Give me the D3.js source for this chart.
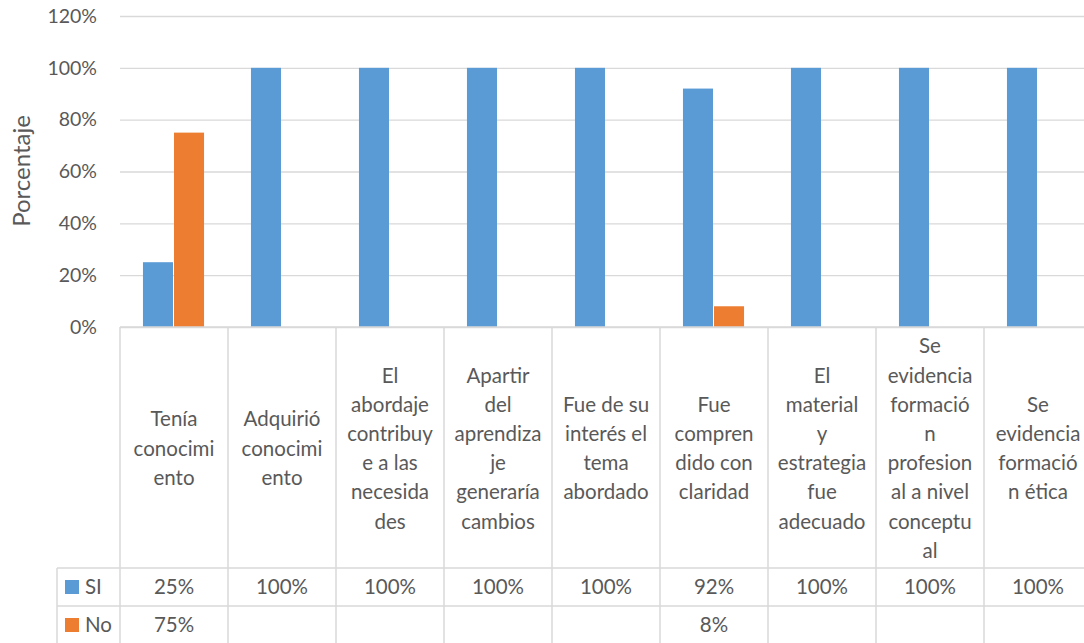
<!DOCTYPE html>
<html>
<head>
<meta charset="utf-8">
<script src="https://cdn.jsdelivr.net/npm/d3@7"></script>
<style>
  body { margin: 0; background: #fff; overflow: hidden; }
  svg { display: block; font-family: Lato, "Open Sans", sans-serif; }
</style>
</head>
<body>
<svg id="chart"></svg>
<script>
// Data
const categories = [
    "Tenía conocimiento",
    "Adquirió conocimiento",
    "El abordaje contribuye a las necesidades",
    "Apartir del aprendizaje generaría cambios",
    "Fue de su interés el tema abordado",
    "Fue comprendido con claridad",
    "El material y estrategia fue adecuado",
    "Se evidencia formación profesional a nivel conceptual",
    "Se evidencia formación ética"
];
// wrapped the way the table shows them
const categoryLines = [
    ["Tenía", "conocimi", "ento"],
    ["Adquirió", "conocimi", "ento"],
    ["El", "abordaje", "contribuy", "e a las", "necesida", "des"],
    ["Apartir", "del", "aprendiza", "je", "generaría", "cambios"],
    ["Fue de su", "interés el", "tema", "abordado"],
    ["Fue", "compren", "dido con", "claridad"],
    ["El", "material", "y", "estrategia", "fue", "adecuado"],
    ["Se", "evidencia", "formació", "n", "profesion", "al a nivel", "conceptu", "al"],
    ["Se", "evidencia", "formació", "n ética"]
];
const seriesNames = ["SI", "No"];
const siValues = [0.25, 1, 1, 1, 1, 0.92, 1, 1, 1];
const noValues = [0.75, null, null, null, null, 0.08, null, null, null];
const yTicks = [0, 0.2, 0.4, 0.6, 0.8, 1.0, 1.2];
const colors = ["#5B9BD5", "#ED7D31"];

const width = 1084, height = 643;
const plotLeft = 120, plotRight = 1092, plotTop = 16, plotBottom = 327;
const headerBottom = 568, rowH = 38;
const legendLeft = 57;
const textColor = "#595959", gridColor = "#D9D9D9";
const tableFont = "20.5px";

const svg = d3.select("#chart").attr("width", width).attr("height", height);

const x = d3.scaleBand()
    .domain(d3.range(categories.length))
    .range([plotLeft, plotRight])
    .padding(0);

const xInner = d3.scaleBand()
    .domain(seriesNames)
    .range([0, x.bandwidth()])
    .paddingInner(0)
    .paddingOuter(0.74);

const y = d3.scaleLinear()
    .domain([0, 1.2])
    .range([plotBottom, plotTop]);

// gridlines + y axis labels
const yAxis = svg.append("g")
    .attr("transform", `translate(${plotLeft},0)`)
    .call(d3.axisLeft(y).tickValues(yTicks).tickFormat(d3.format(".0%"))
        .tickSize(-(plotRight - plotLeft)).tickPadding(23));
yAxis.select(".domain").remove();
yAxis.selectAll(".tick line").attr("stroke", gridColor).attr("stroke-width", 1.3);
yAxis.selectAll(".tick text")
    .attr("fill", textColor)
    .attr("font-size", "19.5px")
    .attr("font-family", "Lato, sans-serif");

// axis title
svg.append("text")
    .attr("transform", `translate(30,171) rotate(-90)`)
    .attr("text-anchor", "middle")
    .attr("fill", textColor)
    .attr("font-size", "24px")
    .text("Porcentaje");

// bars
const series = [siValues, noValues];
series.forEach((vals, si) => {
    svg.append("g")
        .selectAll("rect")
        .data(vals.map((v, i) => ({ i, v })).filter(d => d.v != null))
        .enter()
        .append("rect")
        .attr("x", d => x(d.i) + xInner(seriesNames[si]))
        .attr("width", xInner.bandwidth() - 1)
        .attr("y", d => y(d.v))
        .attr("height", d => y(0) - y(d.v))
        .attr("fill", colors[si]);
});

// data table grid
const grid = svg.append("g").attr("stroke", gridColor).attr("stroke-width", 1.5);
// vertical lines
d3.range(categories.length).forEach(i => {
    grid.append("line")
        .attr("x1", x(i)).attr("x2", x(i))
        .attr("y1", plotBottom).attr("y2", height);
});
grid.append("line")
    .attr("x1", legendLeft).attr("x2", legendLeft)
    .attr("y1", headerBottom).attr("y2", height);
// horizontal lines
grid.append("line")
    .attr("x1", plotLeft).attr("x2", plotRight)
    .attr("y1", plotBottom).attr("y2", plotBottom);
[headerBottom, headerBottom + rowH].forEach(yy => {
    grid.append("line")
        .attr("x1", legendLeft).attr("x2", plotRight)
        .attr("y1", yy).attr("y2", yy);
});

// category labels
const lineH = 29.2;
const headerMid = (plotBottom + headerBottom) / 2 + 1;
categoryLines.forEach((lines, i) => {
    const t = svg.append("text")
        .attr("text-anchor", "middle")
        .attr("fill", textColor)
        .attr("font-size", tableFont);
    const y0 = headerMid - (lines.length - 1) * lineH / 2;
    lines.forEach((ln, k) => {
        t.append("tspan")
            .attr("x", x(i) + x.bandwidth() / 2)
            .attr("y", y0 + k * lineH)
            .attr("dy", "0.35em")
            .text(ln);
    });
});

// table rows
const fmt = d3.format(".0%");
series.forEach((vals, si) => {
    const rowMid = headerBottom + rowH * si + rowH / 2;
    svg.append("rect")
        .attr("x", 65).attr("y", rowMid - 7)
        .attr("width", 14).attr("height", 14)
        .attr("fill", colors[si]);
    svg.append("text")
        .attr("x", 85).attr("y", rowMid)
        .attr("dy", "0.35em")
        .attr("fill", textColor)
        .attr("font-size", tableFont)
        .text(seriesNames[si]);
    svg.append("g")
        .selectAll("text")
        .data(vals.map((v, i) => ({ i, v })).filter(d => d.v != null))
        .enter()
        .append("text")
        .attr("x", d => x(d.i) + x.bandwidth() / 2)
        .attr("y", rowMid)
        .attr("dy", "0.35em")
        .attr("text-anchor", "middle")
        .attr("fill", textColor)
        .attr("font-size", tableFont)
        .text(d => fmt(d.v));
});
</script>
</body>
</html>
